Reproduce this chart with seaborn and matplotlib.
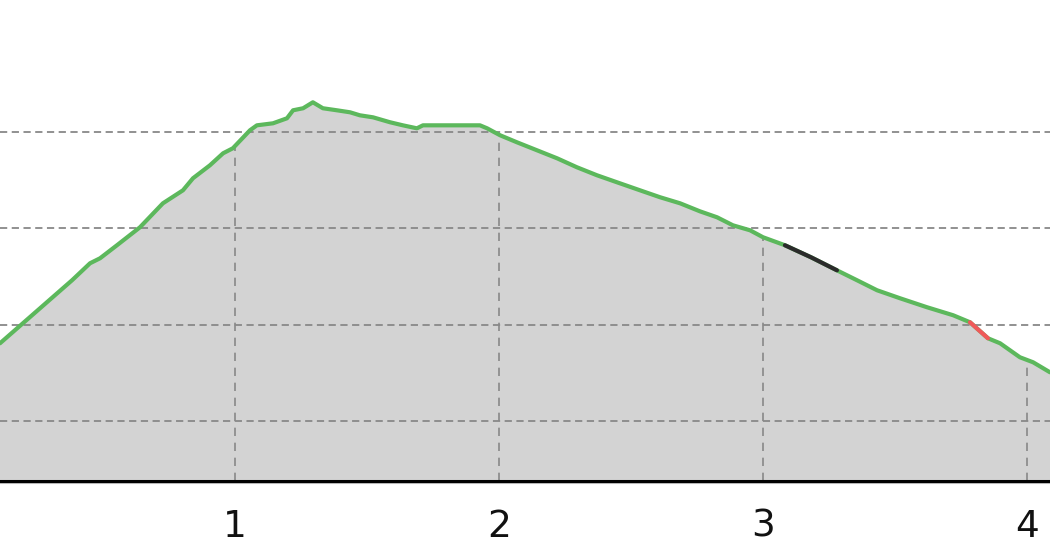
import numpy as np
import pandas as pd
import matplotlib
matplotlib.use("Agg")
import matplotlib.pyplot as plt
import seaborn as sns

# distance (km) and elevation (m)
distance = [0.110, 0.383, 0.451, 0.489, 0.553, 0.640, 0.727, 0.803, 0.841, 0.905,
            0.955, 0.992, 1.057, 1.083, 1.144, 1.197, 1.220, 1.258, 1.295, 1.333,
            1.386, 1.436, 1.473, 1.523, 1.587, 1.636, 1.689, 1.712, 1.814, 1.928,
            1.955, 2.004, 2.068, 2.144, 2.220, 2.295, 2.371, 2.447, 2.534, 2.610,
            2.686, 2.761, 2.826, 2.886, 2.951, 3.000, 3.083, 3.182, 3.280, 3.356,
            3.432, 3.519, 3.621, 3.720, 3.784, 3.852, 3.898, 3.973, 4.023, 4.087]
elevation = [280.9, 346.3, 363.9, 369.1, 382.6, 401.2, 426.1, 439.6, 452.1, 465.5,
             478.0, 483.2, 501.9, 507.0, 509.1, 514.3, 522.6, 524.7, 530.9, 524.7,
             522.6, 520.5, 517.4, 515.3, 510.2, 507.0, 503.9, 507.0, 507.0, 507.0,
             503.9, 496.7, 489.4, 481.1, 472.8, 463.5, 455.2, 447.9, 439.6, 432.4,
             426.1, 417.8, 411.6, 403.3, 398.1, 390.9, 382.6, 370.1, 356.6, 346.3,
             335.9, 327.6, 318.3, 310.0, 302.7, 286.1, 280.9, 266.4, 261.2, 250.8]
# segment colour class per point
segment = ["ok"] * 46 + ["steep"] * 3 + ["ok"] * 5 + ["warn"] * 2 + ["ok"] * 4

km_ticks = [1, 2, 3, 4]
elev_grid = [200, 300, 400, 500]
seg_colors = {"ok": "#5cb85c", "steep": "#2b2b2b", "warn": "#f0595a"}

df = pd.DataFrame({"km": distance, "ele": elevation, "seg": segment})

sns.set_style("white")
fig = plt.figure(figsize=(10.5, 5.6), dpi=100)
ax = fig.add_axes([0, 0.141, 1, 0.859])

ymin, ymax = 138, 637
ax.fill_between(df["km"], ymin, df["ele"], color="#d3d3d3", lw=0, zorder=1)

for y in elev_grid:
    ax.axhline(y, color="#888888", lw=1.3, ls=(0, (4, 2.5)), zorder=2)
for x in km_ticks:
    top = np.interp(x, df["km"], df["ele"])
    ax.vlines(x, ymin, top, color="#888888", lw=1.2, ls=(0, (5, 4)), zorder=2)

# green base line, then coloured stretches on top
sns.lineplot(data=df, x="km", y="ele", color=seg_colors["ok"], lw=3,
             sort=False, estimator=None, ax=ax, zorder=3)
for name in ["steep", "warn"]:
    idx = df.index[df["seg"] == name]
    part = df.loc[idx.min(): idx.max()]
    sns.lineplot(data=part, x="km", y="ele", color=seg_colors[name], lw=3,
                 sort=False, estimator=None, ax=ax, zorder=4)

ax.set_xlim(0.110, 4.087)
ax.set_ylim(ymin, ymax)
ax.set_xticks(km_ticks)
ax.set_xticklabels([str(k) for k in km_ticks], fontsize=27, color="#111111")
ax.set_yticks([])
ax.tick_params(axis="x", length=0, pad=20)
ax.set_xlabel("")
ax.set_ylabel("")
for s in ["top", "left", "right"]:
    ax.spines[s].set_visible(False)
ax.spines["bottom"].set_color("black")
ax.spines["bottom"].set_linewidth(2.2)
ax.spines["bottom"].set_zorder(5)
ax.axhline(ymin - 2.2, color="#bbbbbb", lw=1.5, clip_on=False, zorder=4)

fig.savefig("out.png", dpi=100)
